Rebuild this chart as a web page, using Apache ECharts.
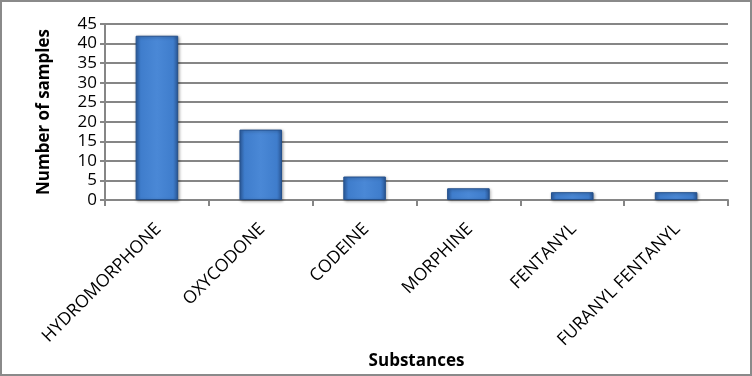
<!DOCTYPE html>
<html>
<head>
<meta charset="utf-8">
<script src="https://cdn.jsdelivr.net/npm/echarts@6/dist/echarts.min.js"></script>
<style>
  html, body { margin: 0; padding: 0; background: #ffffff; }
  #chart { width: 752px; height: 376px; box-sizing: border-box; border: 2px solid #8a8a8a; }
</style>
</head>
<body>
<div id="chart"></div>
<script>
const categories = ["HYDROMORPHONE", "OXYCODONE", "CODEINE", "MORPHINE", "FENTANYL", "FURANYL FENTANYL"];
const samples = [42, 18, 6, 3, 2, 2];
const yTitle = "Number of samples";
const xTitle = "Substances";

const chart = echarts.init(document.getElementById("chart"), null, { renderer: "canvas" });

const barFill = new echarts.graphic.LinearGradient(0, 0, 1, 0, [
  { offset: 0, color: "#2f62a8" },
  { offset: 0.12, color: "#3f7dcc" },
  { offset: 0.5, color: "#4a88d6" },
  { offset: 0.88, color: "#3f7dcc" },
  { offset: 1, color: "#2a5796" }
]);

chart.setOption({
  animation: false,
  backgroundColor: "#ffffff",
  grid: { left: 103, right: 22, top: 22, bottom: 174 },
  xAxis: {
    type: "category",
    data: categories,
    name: xTitle,
    nameLocation: "middle",
    nameGap: 152,
    nameTextStyle: { fontFamily: "Open Sans", fontWeight: "bold", fontSize: 17, color: "#000" },
    axisLine: { lineStyle: { color: "#868686", width: 2 } },
    axisTick: { show: true, alignWithLabel: false, length: 6, lineStyle: { color: "#868686", width: 2 } },
    axisLabel: {
      rotate: 45,
      interval: 0,
      margin: 15,
      padding: [0, 7, 0, 0],
      verticalAlign: "top",
      fontFamily: "Open Sans",
      fontSize: 17.5,
      color: "#000"
    }
  },
  yAxis: {
    type: "value",
    min: 0,
    max: 45,
    interval: 5,
    name: yTitle,
    nameLocation: "middle",
    nameGap: 52,
    nameRotate: 90,
    nameTextStyle: { fontFamily: "Open Sans", fontWeight: "bold", fontSize: 17, color: "#000" },
    axisLine: { show: true, lineStyle: { color: "#868686", width: 2 } },
    axisTick: { show: true, length: 5, lineStyle: { color: "#868686", width: 2 } },
    splitLine: { lineStyle: { color: "#868686", width: 2 } },
    axisLabel: { fontFamily: "Open Sans", fontSize: 17, color: "#000", margin: 8 }
  },
  series: [{
    type: "bar",
    data: samples,
    barWidth: "41%",
    itemStyle: {
      color: barFill,
      borderColor: "#24508c",
      borderWidth: 1,
      shadowColor: "rgba(0,0,0,0.35)",
      shadowBlur: 3,
      shadowOffsetX: 1,
      shadowOffsetY: 1
    }
  }]
});
</script>
</body>
</html>
